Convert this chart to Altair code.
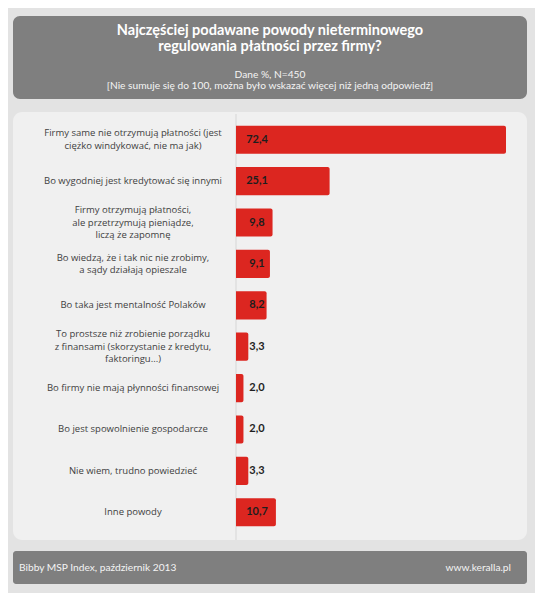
import altair as alt
import pandas as pd

# ---- data ----
categories = [
    "Firmy same nie otrzymują płatności (jest|ciężko windykować, nie ma jak)",
    "Bo wygodniej jest kredytować się innymi",
    "Firmy otrzymują płatności,|ale przetrzymują pieniądze,|liczą że zapomnę",
    "Bo wiedzą, że i tak nic nie zrobimy,|a sądy działają opieszale",
    "Bo taka jest mentalność Polaków",
    "To prostsze niż zrobienie porządku|z finansami (skorzystanie z kredytu,|faktoringu...)",
    "Bo firmy nie mają płynności finansowej",
    "Bo jest spowolnienie gospodarcze",
    "Nie wiem, trudno powiedzieć",
    "Inne powody",
]
values = [72.4, 25.1, 9.8, 9.1, 8.2, 3.3, 2.0, 2.0, 3.3, 10.7]
value_labels = ["72,4", "25,1", "9,8", "9,1", "8,2", "3,3", "2,0", "2,0", "3,3", "10,7"]

title_lines = ["Najczęściej podawane powody nieterminowego", "regulowania płatności przez firmy?"]
subtitle_lines = ["Dane %, N=450", "[Nie sumuje się do 100, można było wskazać więcej niż jedną odpowiedź]"]
footer_left = ["Bibby MSP Index, październik 2013"]
footer_right = ["www.keralla.pl"]

FONT = "Lato"
LABEL_FONT = "Open Sans"
DARK = "#7f7f7f"
PANEL = "#f0f0f0"
OUTER = "#e3e3e3"
RED = "#dc2620"

df = pd.DataFrame({
    "cat": categories,
    "val": values,
    "lbl": value_labels,
    "n": [c.count("|") + 1 for c in categories],
})

W = 514
LH = 12.5
x_scale = alt.Scale(domain=[0, 72.4], range=[223, 493], nice=False, zero=True)
y_scale = alt.Scale(domain=categories, paddingInner=0.32, paddingOuter=0.33)
Y = alt.Y("cat:N", scale=y_scale, axis=None, sort=categories)

base = alt.Chart(df)

bars = base.mark_bar(color=RED, cornerRadiusTopRight=2, cornerRadiusBottomRight=2).encode(
    x=alt.X("val:Q", scale=x_scale, axis=None),
    x2=alt.X2(datum=0),
    y=Y,
)

axis_line = alt.Chart(pd.DataFrame({"z": [0]})).mark_rule(color="#d6d6d6", strokeWidth=1).encode(
    x=alt.X("z:Q", scale=x_scale, axis=None),
    y=alt.value(2),
    y2=alt.value(428),
)

cat_layers = []
for n in (1, 2, 3):
    cat_layers.append(
        base.transform_filter(alt.datum.n == n).mark_text(
            font=LABEL_FONT, fontSize=9.5, color="#404040", align="center", baseline="middle",
            lineBreak="|", lineHeight=LH, dy=-(n - 1) * LH / 2,
        ).encode(x=alt.value(120), y=Y, text="cat:N")
    )

val_text = base.mark_text(
    font=FONT, fontSize=11, fontWeight="bold", color="#1e1e1e", align="center", baseline="middle", dx=21,
).encode(
    x=alt.X(datum=0, scale=x_scale),
    y=Y,
    text="lbl:N",
)

main = alt.layer(axis_line, bars, *cat_layers, val_text).properties(
    width=W, height=428,
    view=alt.ViewBackground(fill=PANEL, cornerRadius=9, strokeWidth=0),
)

# header
hdr_df = pd.DataFrame({"t1": [title_lines[0]], "t2": [title_lines[1]],
                       "s1": [subtitle_lines[0]], "s2": [subtitle_lines[1]]})
hdr = alt.Chart(hdr_df)
hdr_layers = [
    hdr.mark_text(font=FONT, fontSize=14.5, fontWeight="bold", color="white", align="center",
                  baseline="middle").encode(x=alt.value(W / 2), y=alt.value(15), text="t1:N"),
    hdr.mark_text(font=FONT, fontSize=14.5, fontWeight="bold", color="white", align="center",
                  baseline="middle").encode(x=alt.value(W / 2), y=alt.value(31), text="t2:N"),
    hdr.mark_text(font=FONT, fontSize=10.2, color="#f4f4f4", align="center",
                  baseline="middle").encode(x=alt.value(W / 2), y=alt.value(58.5), text="s1:N"),
    hdr.mark_text(font=FONT, fontSize=10.2, color="#f4f4f4", align="center",
                  baseline="middle").encode(x=alt.value(W / 2), y=alt.value(69.5), text="s2:N"),
]
header = alt.layer(*hdr_layers).properties(
    width=W, height=83,
    view=alt.ViewBackground(fill=DARK, cornerRadius=7, strokeWidth=0),
)

# footer
ft_df = pd.DataFrame({"l": footer_left, "r": footer_right})
ft_left = alt.Chart(ft_df).mark_text(
    font=FONT, fontSize=10.2, color="#f4f4f4", align="left", baseline="middle",
).encode(x=alt.value(6), y=alt.value(17), text="l:N")
ft_right = alt.Chart(ft_df).mark_text(
    font=FONT, fontSize=10.2, color="#f4f4f4", align="right", baseline="middle",
).encode(x=alt.value(498), y=alt.value(17), text="r:N")
footer = alt.layer(ft_left, ft_right).properties(
    width=W, height=33,
    view=alt.ViewBackground(fill=DARK, cornerRadius=3, strokeWidth=0),
)

chart = alt.vconcat(
    header,
    alt.vconcat(main, footer, spacing=10),
    spacing=13,
).properties(
    background=OUTER,
    padding={"left": 5, "top": 8, "right": 8, "bottom": 9},
).configure_view(strokeWidth=0)

chart.save("out.html", embed_options={"renderer": "svg", "actions": False})
